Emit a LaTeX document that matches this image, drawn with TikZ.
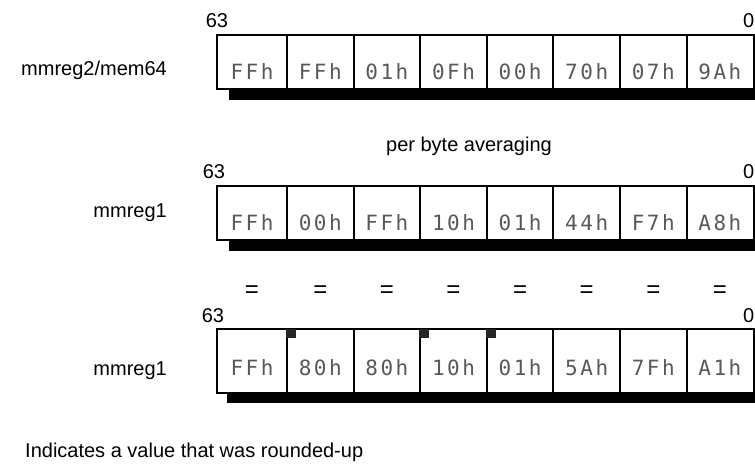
\documentclass[tikz,border=0pt]{standalone}
\usepackage{fontspec}
\setmainfont{Liberation Sans}
\newfontfamily\hexfont[LetterSpace=12]{DejaVu Sans Mono}
\usetikzlibrary{positioning}

\tikzset{
  reglabel/.style={font=\fontsize{20}{24}\selectfont, anchor=base east, inner sep=0pt},
  bitno/.style={font=\fontsize{20}{22}\selectfont, anchor=base, inner sep=0pt},
  hexval/.style={font=\hexfont\fontsize{21}{24}\selectfont, text=black!65, anchor=base, inner sep=0pt},
  eqsign/.style={font=\fontsize{24}{26}\selectfont, inner sep=0pt},
  regbox/.style={line width=2pt},
  regshadow/.style={fill=black},
  roundmark/.style={fill=black!85},
}

\begin{document}
\begin{tikzpicture}[x=1pt,y=1pt,yscale=-1]
\useasboundingbox (0,0) rectangle (755,465);

% mmreg2/mem64
\fill[regshadow] (229,89) rectangle (755,100);
\draw[regbox] (217,35) rectangle (753.5,89);
\foreach \i in {0,...,6} \draw[regbox] ({287+66.6*\i},35) -- ++(0,54);
\foreach \v [count=\i] in {FFh,FFh,01h,0Fh,00h,70h,07h,9Ah}
  \node[hexval] (src\i) at ({ifthenelse(\i==1,252,320.3+66.6*(\i-2))},80) {\v};
\node[reglabel] (srclbl) at (167,76) {mmreg2/mem64};
\node[bitno] (srchi) at (217,28) {63};
\node[bitno, anchor=base east] (srclo) at (754.5,28) {0};

\node[font=\fontsize{20}{24}\selectfont, anchor=base, inner sep=0pt] (op) at (469,152) {per byte averaging};

% mmreg1
\fill[regshadow] (229,240) rectangle (755,251);
\draw[regbox] (217,186) rectangle (753.5,240);
\foreach \i in {0,...,6} \draw[regbox] ({287+66.6*\i},186) -- ++(0,54);
\foreach \v [count=\i] in {FFh,00h,FFh,10h,01h,44h,F7h,A8h}
  \node[hexval] (dst\i) at ({ifthenelse(\i==1,252,320.3+66.6*(\i-2))},231) {\v};
\node[reglabel] (dstlbl) at (167,218) {mmreg1};
\node[bitno] (dsthi) at (214,179) {63};
\node[bitno, anchor=base east] (dstlo) at (754.5,179) {0};

% equal signs
\foreach \i in {1,...,8}
  \node[eqsign] (eq\i) at ({ifthenelse(\i==1,252,320.3+66.6*(\i-2))},292) {=};

% result mmreg1
\fill[regshadow] (227,393) rectangle (755,403);
\draw[regbox] (217,329) rectangle (753.5,393);
\foreach \i in {0,...,6} \draw[regbox] ({287+66.6*\i},329) -- ++(0,64);
\foreach \x in {287,420.2,486.8}
  \fill[roundmark] (\x-1,329) rectangle ++(10,9);
\foreach \v [count=\i] in {FFh,80h,80h,10h,01h,5Ah,7Fh,A1h}
  \node[hexval] (res\i) at ({ifthenelse(\i==1,252,320.3+66.6*(\i-2))},375) {\v};
\node[reglabel] (reslbl) at (167,375) {mmreg1};
\node[bitno] (reshi) at (213,322) {63};
\node[bitno, anchor=base east] (reslo) at (754.5,322) {0};

\node[font=\fontsize{20}{24}\selectfont, anchor=base west, inner sep=0pt] (legend) at (25,457) {Indicates a value that was rounded-up};
\end{tikzpicture}
\end{document}
